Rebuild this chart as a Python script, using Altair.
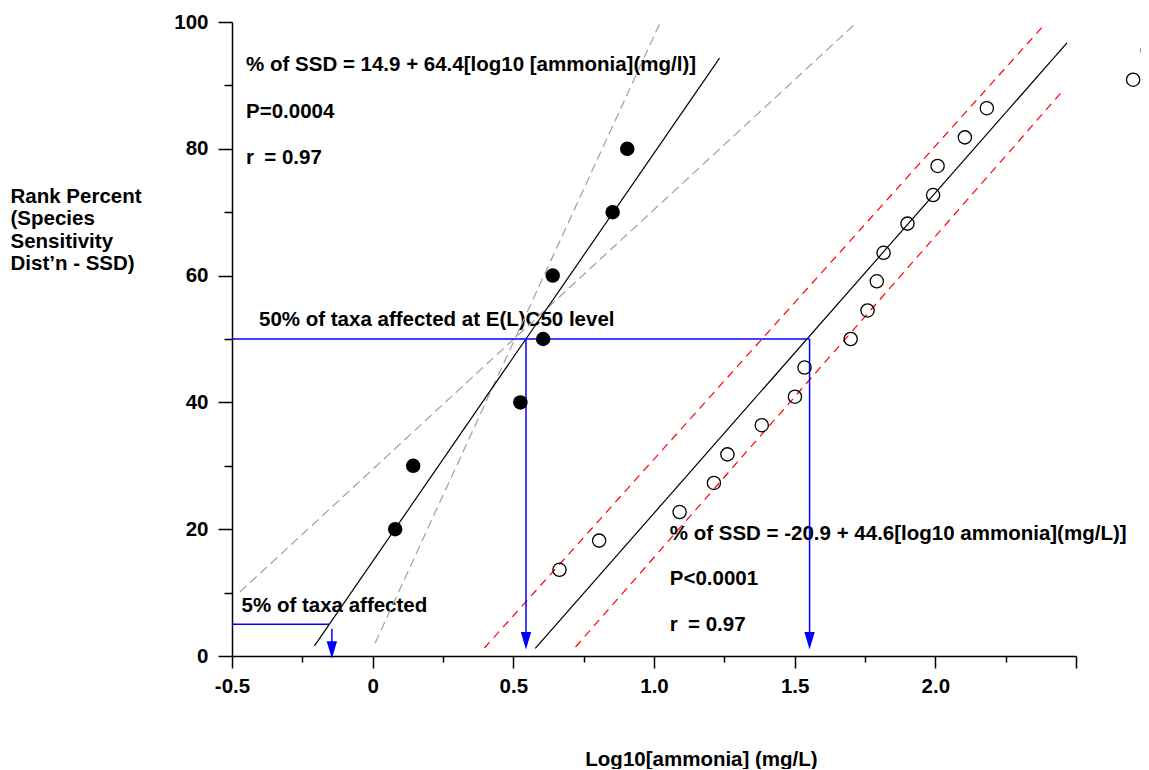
import altair as alt
import pandas as pd

# ---------------- data ----------------
# sensitive taxa (filled circles)
sens_x = [0.080, 0.144, 0.525, 0.606, 0.640, 0.853, 0.905]
sens_y = [20, 30, 40, 50, 60, 70, 80]

# tolerant taxa (open circles)
tol_x = [0.664, 0.805, 1.091, 1.213, 1.261, 1.383, 1.501, 1.535, 1.699, 1.759,
         1.792, 1.816, 1.901, 1.992, 2.008, 2.105, 2.183, 2.703, 2.755]
tol_y = [13.6, 18.2, 22.7, 27.3, 31.8, 36.4, 40.9, 45.5, 50.0, 54.5,
         59.1, 63.6, 68.2, 72.7, 77.3, 81.8, 86.4, 90.9, 95.5]

# fitted regression lines (start / end)
fit_x0 = [-0.207, 0.578]
fit_y0 = [1.6, 1.2]
fit_x1 = [1.233, 2.468]
fit_y1 = [94.3, 96.7]

# grey dashed confidence lines (sensitive fit)
grey_x0 = [-0.472, 0.009]
grey_y0 = [10.1, 2.05]
grey_x1 = [1.710, 1.023]
grey_y1 = [99.5, 100.0]

# red dashed confidence lines (tolerant fit)
red_x0 = [0.397, 0.721]
red_y0 = [1.26, 1.42]
red_x1 = [2.386, 2.450]
red_y1 = [99.5, 89.0]

# blue guide lines
blue_x0 = [-0.5, 0.545, 1.553, -0.5, -0.145]
blue_y0 = [50, 50, 50, 5, 4.3]
blue_x1 = [1.553, 0.545, 1.553, -0.155, -0.145]
blue_y1 = [50, 2.5, 2.5, 5, 1.5]

arrow_x = [0.545, 1.553, -0.145]
arrow_y = [2.4, 2.4, 0.95]

# annotations
ann_text = ["% of SSD = 14.9 + 64.4[log10 [ammonia](mg/l)]", "P=0.0004", "r\u2002= 0.97",
            "50% of taxa affected at E(L)C50 level", "5% of taxa affected",
            "% of SSD = -20.9 + 44.6[log10 ammonia](mg/L)]", "P<0.0001", "r\u2002= 0.97"]
ann_x = [-0.450, -0.450, -0.450, -0.404, -0.466, 1.056, 1.056, 1.056]
ann_y = [92.2, 84.9, 77.6, 52.1, 7.0, 18.3, 11.2, 4.0]

x_major = [-0.5, 0, 0.5, 1.0, 1.5, 2.0, 2.5]
x_minor = [-0.25, 0.25, 0.75, 1.25, 1.75, 2.25]
y_major = [0, 20, 40, 60, 80, 100]
y_minor = [10, 30, 50, 70, 90]

y_title = ["Rank Percent", "(Species", "Sensitivity", "Dist\u2019n - SSD)"]
x_title = "Log10[ammonia] (mg/L)"

# ---------------- tables ----------------
sens = pd.DataFrame({"x": sens_x, "y": sens_y})
tol = pd.DataFrame({"x": tol_x, "y": tol_y})
fit = pd.DataFrame({"x": fit_x0, "y": fit_y0, "x2": fit_x1, "y2": fit_y1})
grey = pd.DataFrame({"x": grey_x0, "y": grey_y0, "x2": grey_x1, "y2": grey_y1})
red = pd.DataFrame({"x": red_x0, "y": red_y0, "x2": red_x1, "y2": red_y1})
blue = pd.DataFrame({"x": blue_x0, "y": blue_y0, "x2": blue_x1, "y2": blue_y1})
arrows = pd.DataFrame({"x": arrow_x, "y": arrow_y})
ann = pd.DataFrame({"x": ann_x, "y": ann_y, "t": ann_text})

FONT = "Liberation Sans"
FS = 20.5
xs = alt.Scale(domain=[-0.5, 2.5], nice=False, zero=False)
ys = alt.Scale(domain=[0, 100], nice=False, zero=False)


def X(axis=None):
    return alt.X("x:Q", scale=xs, axis=axis)


def Y(axis=None):
    return alt.Y("y:Q", scale=ys, axis=axis)


x_axis_major = alt.Axis(
    values=x_major, tickSize=12, tickWidth=1.5, domainWidth=1.5,
    labelExpr="datum.value == 2.5 ? '' : (datum.value == 0 ? '0' : (datum.value % 1 == 0 ? datum.value + '.0' : '' + datum.value))",
    labelPadding=8, labelFlush=False, labelOverlap=False, grid=False,
    title=x_title, titleX=469, titleY=109, titleBaseline="alphabetic", titleAlign="center",
    orient="bottom")
y_axis_major = alt.Axis(
    values=y_major, tickSize=14, tickWidth=1.5, domainWidth=1.5, labelPadding=10,
    labelFlush=False, labelOverlap=False, grid=False,
    title=y_title, titleAngle=0, titleAlign="left", titleBaseline="top",
    titleX=-222, titleY=164, titleLineHeight=22.5, orient="left")
x_axis_minor = alt.Axis(values=x_minor, tickSize=6, tickWidth=1.5, labels=False,
                        domain=False, grid=False, title=None, orient="bottom")
y_axis_minor = alt.Axis(values=y_minor, tickSize=8, tickWidth=1.5, labels=False,
                        domain=False, grid=False, title=None, orient="left")

texts = alt.Chart(ann).mark_text(align="left", baseline="alphabetic", font=FONT,
                                 fontSize=FS, fontWeight="bold", color="black").encode(
    x=X(), y=Y(), text="t:N")

grey_l = alt.Chart(grey).mark_rule(color="#a0a0a0", strokeWidth=1.2, strokeDash=[9, 5]).encode(
    x=X(), y=Y(), x2="x2:Q", y2="y2:Q")
red_l = alt.Chart(red).mark_rule(color="#ff0000", strokeWidth=1.2, strokeDash=[8, 6]).encode(
    x=X(), y=Y(), x2="x2:Q", y2="y2:Q")
fit_l = alt.Chart(fit).mark_rule(color="black", strokeWidth=1.2).encode(
    x=X(), y=Y(), x2="x2:Q", y2="y2:Q")
blue_l = alt.Chart(blue).mark_rule(color="#0000ff", strokeWidth=1.5).encode(
    x=X(), y=Y(), x2="x2:Q", y2="y2:Q")
arrow_m = alt.Chart(arrows).mark_point(shape="M-0.6,-1L0.6,-1L0,1Z", filled=True, size=300,
                                       color="#0000ff", opacity=1).encode(x=X(), y=Y())

sens_m = alt.Chart(sens).mark_circle(size=210, color="black", opacity=1).encode(
    x=X(x_axis_major), y=Y(y_axis_major))
tol_m = alt.Chart(tol).mark_point(shape="circle", filled=False, size=175, color="black",
                                  strokeWidth=1.3, opacity=1).encode(
    x=X(x_axis_minor), y=Y(y_axis_minor))

chart = alt.layer(texts, grey_l, red_l, fit_l, blue_l, arrow_m, sens_m, tol_m).resolve_axis(
    x="independent", y="independent"
).properties(
    width=844, height=634,
    padding={"left": 224, "top": 14, "right": 65, "bottom": 113},
    autosize=alt.AutoSizeParams(type="none"),
).configure_view(stroke=None).configure_axis(
    labelFont=FONT, labelFontSize=FS, labelFontWeight="bold", labelColor="black",
    titleFont=FONT, titleFontSize=FS, titleFontWeight="bold", titleColor="black",
    domainColor="black", tickColor="black",
)

chart.save("out.html", embed_options={"renderer": "svg", "actions": False})
